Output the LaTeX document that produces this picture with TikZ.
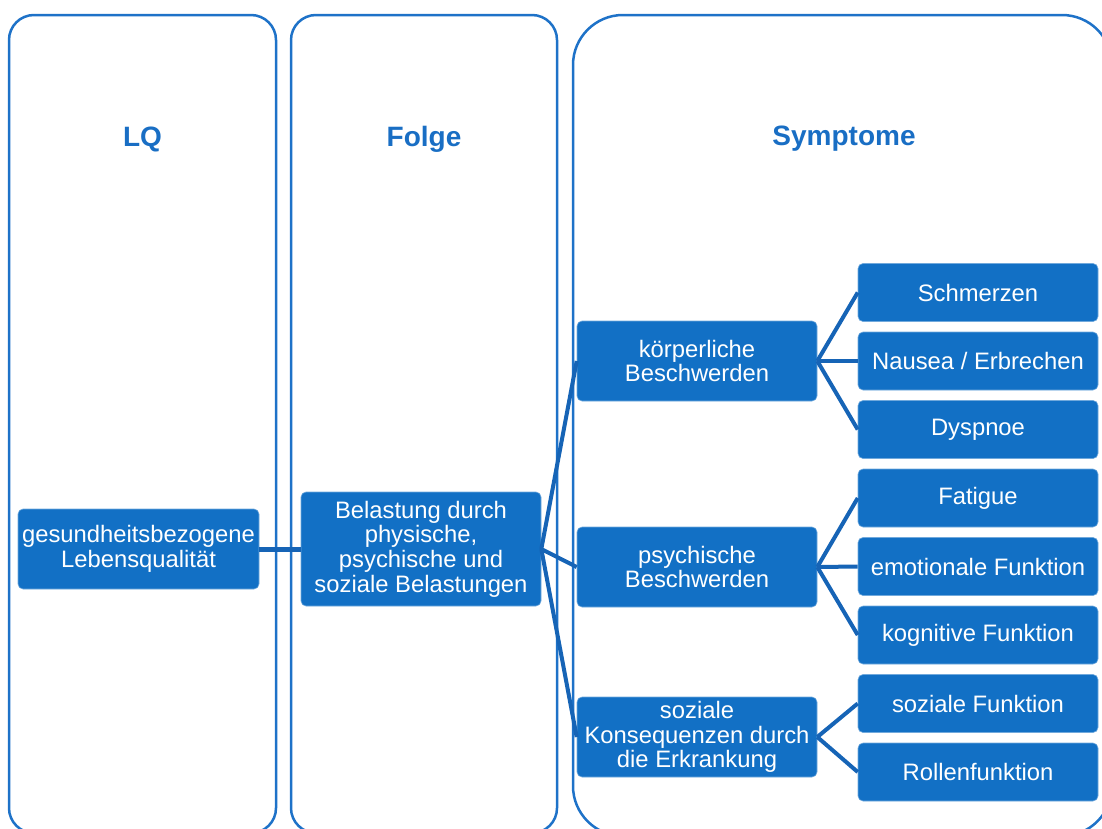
\documentclass[tikz,border=0pt]{standalone}
\usepackage{fontspec}
\setmainfont{Liberation Sans}
\definecolor{colblue}{RGB}{30,114,200}
\definecolor{nodeblue}{RGB}{18,112,197}
\definecolor{connblue}{RGB}{22,100,182}
\definecolor{headblue}{RGB}{25,110,196}
\tikzset{
  column/.style={draw=colblue, line width=2.5pt},
  heading/.style={text=headblue, font=\fontsize{28}{30}\selectfont\bfseries},
  box/.style={rectangle, rounded corners=5pt, fill=nodeblue, draw=nodeblue!60!white, line width=0.6pt, text=white, align=center, inner sep=0pt,
    font=\fontsize{23.8}{24.6}\selectfont},
  midbox/.style={box, minimum width=240pt, minimum height=80pt},
  leafbox/.style={box, minimum width=240pt, minimum height=58pt},
  conn/.style={draw=connblue, line width=4pt},
}
\begin{document}
\begin{tikzpicture}[x=1pt,y=-1pt]
\useasboundingbox (0,0) rectangle (1102,828);
\clip (0,0) rectangle (1102,828);
% columns
\draw[column, rounded corners=25pt] (9,15) rectangle (276,833);
\draw[column, rounded corners=25pt] (291,15) rectangle (557,833);
\draw[column, rounded corners=50pt] (573,15) rectangle (1112,836);
% headings
\node[heading] (hLQ) at (142.5,139) {LQ};
\node[heading] (hFolge) at (424,139) {Folge};
\node[heading] (hSym) at (844,139) {Symptome};
% nodes
\node[box, minimum width=241pt, minimum height=80pt] (gesund) at (138.5,549) {gesundheitsbezogene\\Lebensqualität};
\node[box, minimum width=240pt, minimum height=114pt] (belast) at (421,549) {Belastung durch\\physische,\\psychische und\\soziale Belastungen};
\node[midbox] (koerp) at (697,361) {körperliche\\Beschwerden};
\node[midbox] (psych) at (697,567) {psychische\\Beschwerden};
\node[midbox] (sozk) at (697,737) {soziale\\Konsequenzen durch\\die Erkrankung};
\node[leafbox] (schm) at (978,292.5) {Schmerzen};
\node[leafbox] (naus) at (978,361) {Nausea / Erbrechen};
\node[leafbox] (dysp) at (978,429.5) {Dyspnoe};
\node[leafbox] (fati) at (978,498) {Fatigue};
\node[leafbox] (emot) at (978,566.5) {emotionale Funktion};
\node[leafbox] (kogn) at (978,635) {kognitive Funktion};
\node[leafbox] (sozf) at (978,703.5) {soziale Funktion};
\node[leafbox] (roll) at (978,772) {Rollenfunktion};
% connectors
\draw[conn, line width=5pt] (gesund.east) -- (belast.west);
\draw[conn] (belast.east) -- (koerp.west);
\draw[conn] (belast.east) -- (psych.west);
\draw[conn] (belast.east) -- (sozk.west);
\draw[conn] (koerp.east) -- (schm.west);
\draw[conn] (koerp.east) -- (naus.west);
\draw[conn] (koerp.east) -- (dysp.west);
\draw[conn] (psych.east) -- (fati.west);
\draw[conn] (psych.east) -- (emot.west);
\draw[conn] (psych.east) -- (kogn.west);
\draw[conn] (sozk.east) -- (sozf.west);
\draw[conn] (sozk.east) -- (roll.west);
\end{tikzpicture}
\end{document}
